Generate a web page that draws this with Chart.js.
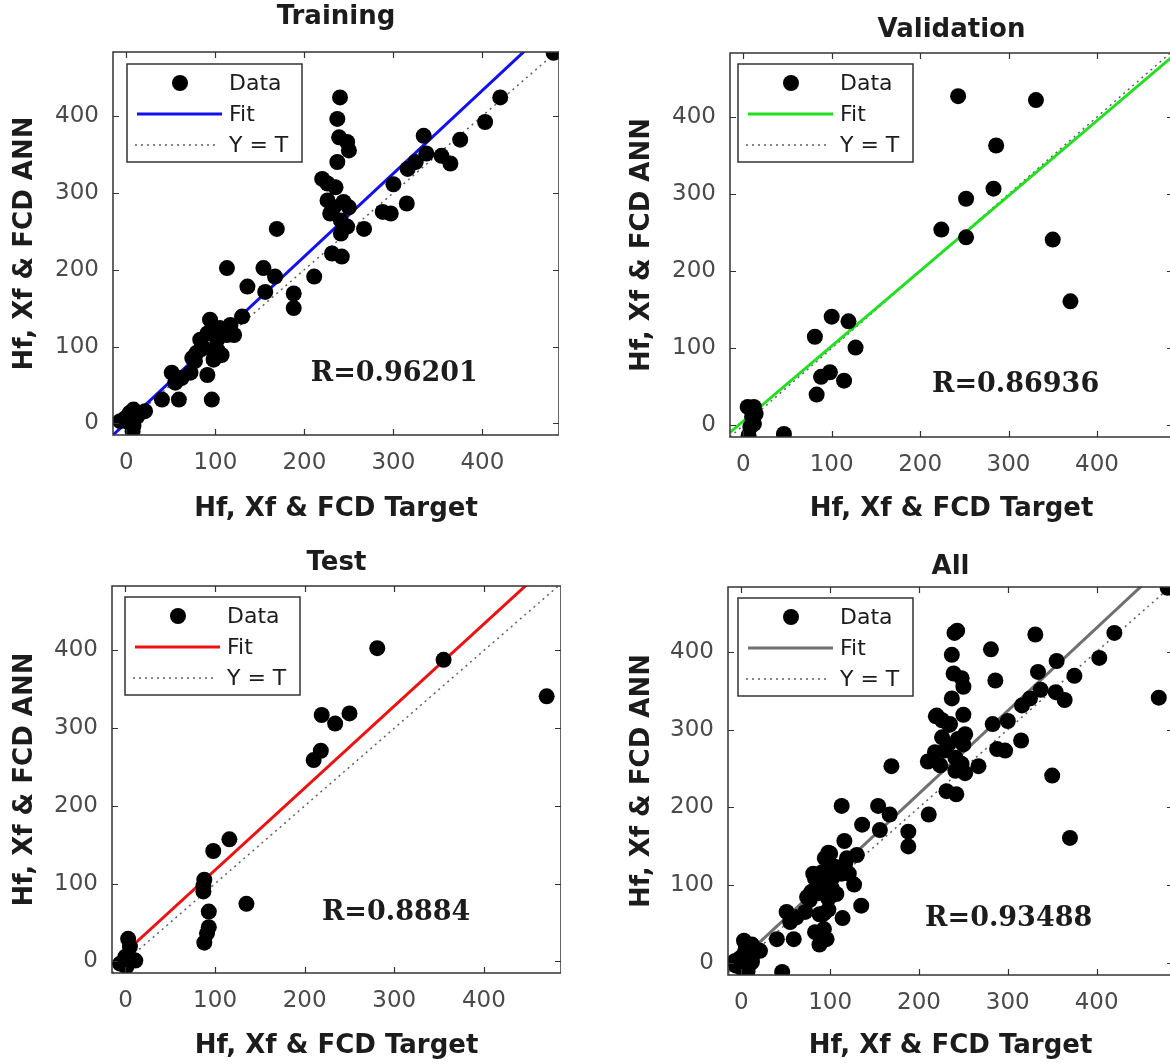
<!DOCTYPE html>
<html>
<head>
<meta charset="utf-8">
<title>Regression plots</title>
<script src="https://cdn.jsdelivr.net/npm/chart.js@4.4.1/dist/chart.umd.min.js"></script>
<style>
  html, body { margin: 0; padding: 0; background: #fff; overflow: hidden; }
  #page { position: relative; width: 1170px; height: 1064px; overflow: hidden; background: #fff; }
  canvas { position: absolute; }
</style>
</head>
<body>
<div id="page">
  <canvas id="cTrain"></canvas>
  <canvas id="cVal"></canvas>
  <canvas id="cTest"></canvas>
  <canvas id="cAll"></canvas>
</div>
<script>
// ---- data ----
const tickValues = [0, 100, 200, 300, 400];
const axisMin = -15;
const xMax = 486;
const yMax = 483;

const trainTarget = [480, 420, 403, 375, 364, 354, 334, 337, 325, 316, 315, 300, 297, 288, 267,
  240, 237, 239, 248, 250, 237, 220, 226, 235, 226, 229, 233, 244, 250, 241, 248, 241, 231, 242,
  169, 113, 154, 167, 211, 136, 156, 188, 188, 130, 94, 117, 105, 91, 83, 102, 113, 121, 87, 102,
  107, 79, 74, 77, 98, 51, 62, 91, 55, 72, 40, 59, 96, 21, 4, 8, -1, 3, 8, 7, 12, -7];
const trainOutput = [482, 424, 392, 369, 338, 348, 374, 351, 340, 331, 286, 311, 273, 275, 253,
  424, 396, 372, 366, 355, 340, 318, 312, 307, 290, 273, 281, 288, 281, 264, 256, 247, 221, 217,
  253, 202, 202, 191, 191, 178, 171, 169, 150, 139, 135, 128, 124, 117, 109, 109, 115, 115, 98, 96,
  89, 92, 85, 81, 83, 66, 59, 63, 53, 66, 31, 31, 31, 16, 14, 18, 7, 1, -3, -10, 9, 3];

const valTarget = [243, 331, 286, 283, 252, 224, 252, 350, 370, 100, 119, 81, 127, 98, 88, 114,
  83, 46, 5, 12, 10, 14, 8, 6, 12];
const valOutput = [427, 422, 363, 307, 294, 254, 244, 241, 161, 141, 135, 115, 101, 69, 63, 58,
  40, -11, 24, 24, 11, 15, -2, -13, 2];

const testTarget = [281, 355, 470, 219, 250, 234, 218, 210, 116, 98, 88, 87, 87, 135, 93, 93,
  91, 88, 3, 5, 0, 11, 1, -6];
const testOutput = [403, 388, 341, 317, 319, 306, 271, 259, 157, 142, 105, 97, 90, 74, 64, 44,
  36, 24, 29, 19, 6, 1, -7, -3];

// "All" is the union of the three subsets
const allTarget = trainTarget.concat(valTarget, testTarget);
const allOutput = trainOutput.concat(valOutput, testOutput);

// fitted lines (end points, clipped by the axes) and the Y = T line
const fitTrain = [[-15, -15], [486, 526]];
const fitVal = [[-15, -9], [486, 479]];
const fitTest = [[-15, -4], [486, 525]];
const fitAll = [[-15, -11], [486, 522]];
const identityLine = [[-15, -15], [486, 486]];

const rLabels = ['R=0.96201', 'R=0.86936', 'R=0.8884', 'R=0.93488'];

// ---- styling / layout ----
const SANS = '"DejaVu Sans", "Liberation Sans", Arial, sans-serif';
const SERIF = '"DejaVu Serif", "Liberation Serif", serif';
const TEXT = '#1c1c1c';
const TICK = '#4a4a4a';
const EDGE = '#333333';
const TITLE_SIZE = 26;
const LABEL_SIZE = 26;
const TICK_SIZE = 23;

const panels = [
  { id: 'cTrain', title: 'Training', target: trainTarget, output: trainOutput, fit: fitTrain,
    fitColor: '#1010f0', r: rLabels[0], rPos: [301, 64], legendOff: [14, 12],
    canvas: { left: 0, top: 0, width: 559, height: 532 }, area: { left: 113, top: 52, bottom: 435 },
    titleY: 17, xTitleY: 509, yTitleX: 25 },
  { id: 'cVal', title: 'Validation', target: valTarget, output: valOutput, fit: fitVal,
    fitColor: '#20e020', r: rLabels[1], rPos: [308, 52], legendOff: [8, 11],
    canvas: { left: 600, top: 0, width: 573, height: 532 }, area: { left: 730, top: 53, bottom: 437 },
    titleY: 30, xTitleY: 509, yTitleX: 642 },
  { id: 'cTest', title: 'Test', target: testTarget, output: testOutput, fit: fitTest,
    fitColor: '#ee1111', r: rLabels[2], rPos: [302, 62], legendOff: [13, 11],
    canvas: { left: 0, top: 532, width: 561, height: 532 }, area: { left: 112, top: 586, bottom: 973 },
    titleY: 563, xTitleY: 1046, yTitleX: 25 },
  { id: 'cAll', title: 'All', target: allTarget, output: allOutput, fit: fitAll,
    fitColor: '#707070', r: rLabels[3], rPos: [301, 57], legendOff: [10, 11],
    canvas: { left: 600, top: 532, width: 573, height: 532 }, area: { left: 728, top: 587, bottom: 975 },
    titleY: 567, xTitleY: 1046, yTitleX: 642 }
];

const toPoints = pairs => pairs.map(p => ({ x: p[0], y: p[1] }));

// axes box with inward ticks, R annotation and boxed legend (MATLAB look)
const regressionDecor = {
  id: 'regDecor',
  afterDatasetsDraw(chart, args, opts) {
    const { ctx, chartArea: a, scales: { x, y } } = chart;
    ctx.save();

    ctx.strokeStyle = EDGE;
    ctx.lineWidth = 1.5;
    ctx.strokeRect(a.left, a.top, a.right - a.left, a.bottom - a.top);
    ctx.lineWidth = 1.2;
    ctx.beginPath();
    x.ticks.forEach(t => {
      const px = Math.round(x.getPixelForValue(t.value)) + 0.5;
      ctx.moveTo(px, a.bottom); ctx.lineTo(px, a.bottom - 6);
      ctx.moveTo(px, a.top); ctx.lineTo(px, a.top + 6);
    });
    y.ticks.forEach(t => {
      const py = Math.round(y.getPixelForValue(t.value)) + 0.5;
      ctx.moveTo(a.left, py); ctx.lineTo(a.left + 6, py);
      ctx.moveTo(a.right, py); ctx.lineTo(a.right - 6, py);
    });
    ctx.stroke();

    // correlation label
    ctx.font = 'bold 27px ' + SERIF;
    ctx.fillStyle = TEXT;
    ctx.textAlign = 'center';
    ctx.textBaseline = 'middle';
    ctx.fillText(opts.r, x.getPixelForValue(opts.rPos[0]), y.getPixelForValue(opts.rPos[1]));

    // legend
    const ds = chart.data.datasets;
    const lx = a.left + opts.legendOff[0];
    const ly = a.top + opts.legendOff[1];
    const w = 175, h = 98;
    ctx.fillStyle = '#fff';
    ctx.fillRect(lx, ly, w, h);
    ctx.strokeStyle = EDGE;
    ctx.lineWidth = 1.5;
    ctx.strokeRect(lx, ly, w, h);
    const rows = [ly + 19, ly + 50, ly + 81];

    ctx.fillStyle = ds[0].pointBackgroundColor;
    ctx.beginPath();
    ctx.arc(lx + 53, rows[0], 8, 0, Math.PI * 2);
    ctx.fill();

    ctx.strokeStyle = ds[1].borderColor;
    ctx.lineWidth = ds[1].borderWidth;
    ctx.beginPath(); ctx.moveTo(lx + 10, rows[1]); ctx.lineTo(lx + 95, rows[1]); ctx.stroke();

    ctx.strokeStyle = ds[2].borderColor;
    ctx.lineWidth = ds[2].borderWidth;
    ctx.setLineDash(ds[2].borderDash);
    ctx.beginPath(); ctx.moveTo(lx + 8, rows[2]); ctx.lineTo(lx + 92, rows[2]); ctx.stroke();
    ctx.setLineDash([]);

    ctx.font = '22px ' + SANS;
    ctx.fillStyle = TEXT;
    ctx.textAlign = 'left';
    ctx.textBaseline = 'middle';
    ds.forEach((d, i) => ctx.fillText(d.label, lx + 102, rows[i] + 1));

    ctx.restore();
  }
};

panels.forEach(p => {
  const cv = document.getElementById(p.id);
  cv.width = p.canvas.width;
  cv.height = p.canvas.height;
  cv.style.left = p.canvas.left + 'px';
  cv.style.top = p.canvas.top + 'px';

  const titleLH = TITLE_SIZE * 1.2;
  const labelLH = LABEL_SIZE * 1.2;
  const yAxisW = p.area.left - p.canvas.left;
  const xAxisH = p.canvas.top + p.canvas.height - p.area.bottom;
  const titlePadTop = p.titleY - p.canvas.top - titleLH / 2;
  const titlePadBottom = p.area.top - p.canvas.top - titleLH - titlePadTop;
  const xTitlePad = p.canvas.top + p.canvas.height - p.xTitleY - labelLH / 2;
  const yTitlePad = p.yTitleX - p.canvas.left - labelLH / 2;

  new Chart(cv, {
    type: 'scatter',
    data: {
      datasets: [
        {
          label: 'Data',
          data: p.target.map((t, i) => ({ x: t, y: p.output[i] })),
          pointRadius: 8,
          pointHoverRadius: 8,
          pointBackgroundColor: '#000000',
          pointBorderColor: '#000000',
          pointBorderWidth: 0
        },
        {
          label: 'Fit',
          data: toPoints(p.fit),
          showLine: true,
          borderColor: p.fitColor,
          borderWidth: 3,
          pointRadius: 0
        },
        {
          label: 'Y = T',
          data: toPoints(identityLine),
          showLine: true,
          borderColor: '#606060',
          borderWidth: 1.5,
          borderDash: [2, 4],
          pointRadius: 0
        }
      ]
    },
    options: {
      responsive: false,
      animation: false,
      events: [],
      layout: { padding: 0, autoPadding: false },
      plugins: {
        legend: { display: false },
        tooltip: { enabled: false },
        title: {
          display: true,
          text: p.title,
          fullSize: false,
          color: TEXT,
          font: { family: SANS, size: TITLE_SIZE, weight: 'bold', lineHeight: 1.2 },
          padding: { top: titlePadTop, bottom: titlePadBottom }
        },
        regDecor: { r: p.r, rPos: p.rPos, legendOff: p.legendOff }
      },
      scales: {
        x: {
          type: 'linear',
          min: axisMin,
          max: xMax,
          grid: { display: false, drawTicks: false },
          border: { display: false },
          afterBuildTicks: s => { s.ticks = tickValues.map(v => ({ value: v })); },
          afterFit: s => { s.height = xAxisH; },
          ticks: { padding: 14, color: TICK, autoSkip: false, maxRotation: 0,
                   font: { family: SANS, size: TICK_SIZE, lineHeight: 1.2 } },
          title: { display: true, text: 'Hf, Xf & FCD Target', color: TEXT,
                   font: { family: SANS, size: LABEL_SIZE, weight: 'bold', lineHeight: 1.2 },
                   padding: { top: 0, bottom: xTitlePad } }
        },
        y: {
          type: 'linear',
          min: axisMin,
          max: yMax,
          grid: { display: false, drawTicks: false },
          border: { display: false },
          afterBuildTicks: s => { s.ticks = tickValues.map(v => ({ value: v })); },
          afterFit: s => { s.width = yAxisW; },
          ticks: { padding: 14, color: TICK, autoSkip: false,
                   font: { family: SANS, size: TICK_SIZE, lineHeight: 1.2 } },
          title: { display: true, text: 'Hf, Xf & FCD ANN', color: TEXT,
                   font: { family: SANS, size: LABEL_SIZE, weight: 'bold', lineHeight: 1.2 },
                   padding: { top: yTitlePad, bottom: 0 } }
        }
      }
    },
    plugins: [regressionDecor]
  });
});
</script>
</body>
</html>
